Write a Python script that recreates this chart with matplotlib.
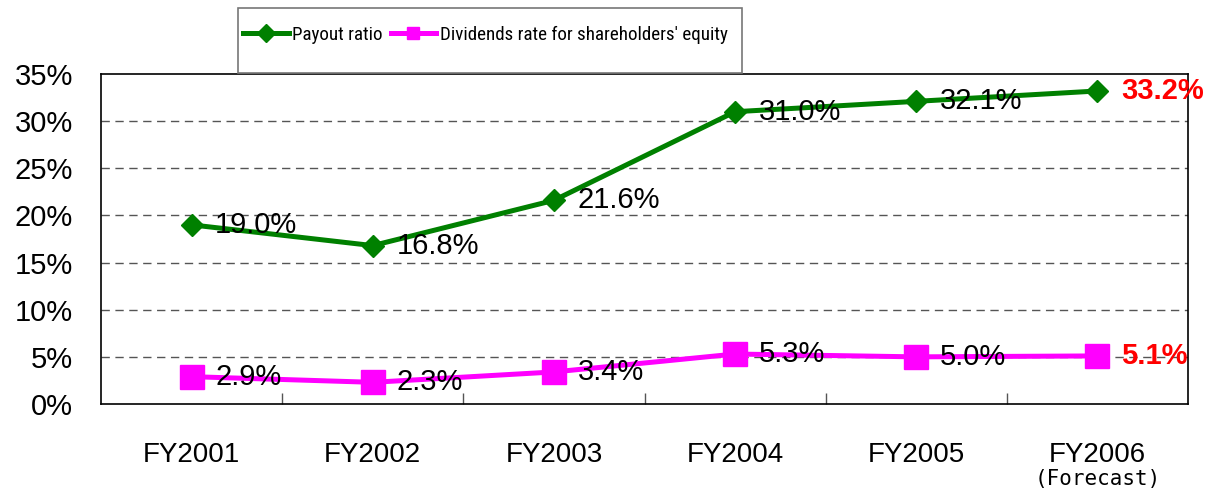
import matplotlib
matplotlib.use("Agg")
import matplotlib.pyplot as plt
from matplotlib import font_manager
from matplotlib.patches import Rectangle
from matplotlib.ticker import FuncFormatter

# data
years = ["FY2001", "FY2002", "FY2003", "FY2004", "FY2005", "FY2006"]
payout = [19.0, 16.8, 21.6, 31.0, 32.1, 33.2]
dividends = [2.9, 2.3, 3.4, 5.3, 5.0, 5.1]
payout_lbl = ["19.0%", "16.8%", "21.6%", "31.0%", "32.1%", "33.2%"]
div_lbl = ["2.9%", "2.3%", "3.4%", "5.3%", "5.0%", "5.1%"]

plt.rcParams["font.family"] = ["Liberation Sans", "DejaVu Sans"]

# narrow font for the legend, if one is installed
leg_prop = {"family": "Liberation Sans", "size": 12.3}
for fam, size in (("Liberation Sans Narrow", 13.7), ("Roboto Condensed", 13.7),
                  ("Open Sans Condensed", 13.7), ("DejaVu Sans Condensed", 12.7)):
    try:
        f = font_manager.findfont(font_manager.FontProperties(family=fam),
                                  fallback_to_default=False)
        if "ondensed" in f or "arrow" in f:
            leg_prop = {"family": fam, "size": size}
            break
    except Exception:
        pass

W, H = 1211, 491
fig = plt.figure(figsize=(W / 100, H / 100), dpi=100)
ax = fig.add_axes([101 / W, 1 - 404 / H, (1188 - 101) / W, (404 - 74) / H])

x = list(range(len(years)))
l1, = ax.plot(x, payout, color="#008000", lw=3.6, marker="D", ms=11, zorder=3,
              label="Payout ratio")
l2, = ax.plot(x, dividends, color="#FF00FF", lw=3.6, marker="s", ms=17, zorder=3,
              label="Dividends rate for shareholders' equity")

last = len(years) - 1
for i in x:
    red = i == last
    for vals, lbls in ((payout, payout_lbl), (dividends, div_lbl)):
        ax.annotate(lbls[i], (i, vals[i]), xytext=(17, 0), textcoords="offset points",
                    va="center", ha="left", fontsize=21,
                    color="red" if red else "black",
                    fontweight="bold" if red else "normal",
                    annotation_clip=False, zorder=4)

ax.set_xlim(-0.5, last + 0.5)
ax.set_ylim(0, 35)
ax.set_yticks(range(0, 36, 5))
ax.yaxis.set_major_formatter(FuncFormatter(lambda v, p: f"{v:.0f}%"))
ax.tick_params(axis="y", length=0, pad=20, labelsize=21)

ax.set_xticks(x)
ax.set_xticklabels(years)
ax.tick_params(axis="x", which="major", length=0, pad=27, labelsize=20)
ax.set_xticks([i + 0.5 for i in x[:-1]], minor=True)
ax.tick_params(axis="x", which="minor", direction="in", length=8, width=1, color="#555555")

for y in range(5, 35, 5):
    ax.axhline(y, color="#555555", lw=1, ls=(0, (6, 4)), zorder=1)

for s in ax.spines.values():
    s.set_color("black")
    s.set_linewidth(1.2)

ax.annotate("(Forecast)", (last, 0), xytext=(0, -54), textcoords="offset points",
            ha="center", va="center", fontsize=15, family="DejaVu Sans Mono",
            annotation_clip=False)

# legend box drawn separately so the padding can differ per side
fig.patches.append(Rectangle((238 / W, 1 - 73 / H), (742 - 238) / W, 65 / H,
                             transform=fig.transFigure, fill=False,
                             edgecolor="#777777", lw=1.2))
leg = fig.legend(handles=[l1, l2], loc="center left",
                 bbox_to_anchor=(243 / W, 1 - 35 / H), ncol=2,
                 prop=leg_prop, frameon=False,
                 handlelength=2.4, handletextpad=0.2,
                 columnspacing=0.4, borderpad=0, borderaxespad=0)
hs = leg.legend_handles
hs[0].set_markersize(9)
hs[1].set_markersize(8)

fig.savefig("out.png", dpi=100)
